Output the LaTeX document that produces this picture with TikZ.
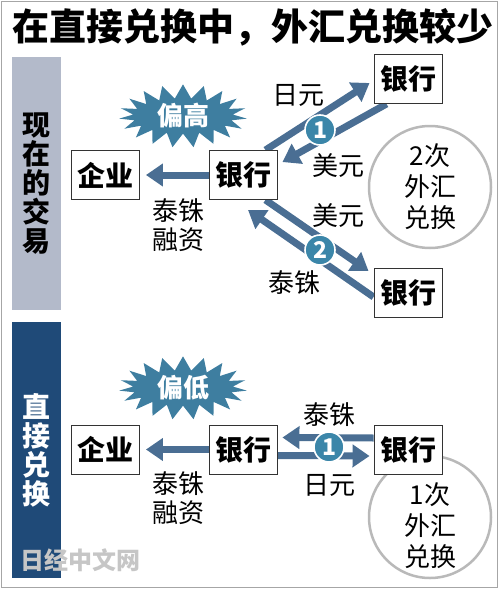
\documentclass[tikz,border=0pt]{standalone}
\usepackage{fontspec}
\setmainfont{Noto Sans CJK SC}
\usepackage{xcolor}
\usetikzlibrary{arrows.meta,shapes.symbols,backgrounds}

\definecolor{burstblue}{HTML}{3E7EA0}
\definecolor{flowblue}{HTML}{4A6E93}
\definecolor{numblue}{HTML}{3B86A9}
\definecolor{nowgray}{HTML}{B3BACA}
\definecolor{directnavy}{HTML}{1F4A78}

\begin{document}
\begin{tikzpicture}[
    x=1pt, y=-1pt,
    box/.style={draw=black!80, line width=0.9pt, fill=white, minimum width=68pt, minimum height=49pt, inner sep=0pt, font=\fontsize{28}{30}\selectfont\bfseries},
    lbl/.style={align=center, inner sep=0pt, font=\fontsize{26}{29}\selectfont},
    burst/.style={starburst, starburst points=19, starburst point height=14pt, random starburst=0, fill=burstblue, text=white, minimum width=128pt, minimum height=62pt, inner sep=0pt, font=\fontsize{26}{28}\selectfont\bfseries},
    flow/.style={draw=flowblue, line width=7pt, -{Triangle[length=17pt,width=22pt]}},
    num/.style={circle, fill=numblue, draw=white, line width=1.6pt, minimum size=30pt, inner sep=0pt, text=white, font=\fontsize{23}{23}\selectfont\bfseries},
    tally/.style={circle, draw=gray!55, line width=2.5pt, fill=white, minimum size=122pt},
    tallytext/.style={align=center, inner sep=0pt, font=\fontsize{26}{31}\selectfont},
    sidebar/.style={minimum width=49pt, inner sep=0pt, align=center, anchor=north west, font=\fontsize{28}{29}\selectfont\bfseries}
]
\useasboundingbox (0,0) rectangle (500,589);
\draw[gray!70, line width=1pt] (1,1) rectangle (497,587);

\node[font=\fontsize{37}{40}\selectfont\bfseries] (title) at (253,27) {在直接兑换中，外汇兑换较少};

% side bars
\node[sidebar, fill=nowgray, minimum height=253pt] (nowbar) at (12,57) {现\\在\\的\\交\\易};
\node[sidebar, fill=directnavy, text=white, minimum height=256pt] (directbar) at (12,322) {直\\接\\兑\\换};

% current trade
\node[burst] (high) at (183,116) {偏高};
\node[box] (firm1) at (105.5,175) {企业};
\node[box] (bank1) at (243,175) {银行};
\node[box] (bankA) at (408,79) {银行};
\node[box] (bankB) at (408,293) {银行};
\node[tally] (twice) at (430,187) {};
\node[tallytext] (twicetext) at (twice) {2次\\外汇\\兑换};

\begin{scope}[on background layer]
\draw[flow] (bank1.west) -- ([xshift=6pt]firm1.east);
\draw[flow] ([xshift=-12pt]bank1.north east) -- ([xshift=-4pt,yshift=-4pt]bankA.west);
\draw[flow] ([xshift=13pt]bankA.south west) -- ([xshift=5pt,yshift=-12pt]bank1.north east);
\draw[flow] ([xshift=-12pt]bank1.south east) -- ([xshift=-5pt,yshift=-3pt]bankB.north west);
\draw[flow] ([yshift=-4pt]bankB.west) -- ([xshift=5pt,yshift=-10pt]bank1.south);
\end{scope}

\node[num] (one) at (320,130) {1};
\node[num] (two) at (320,250) {2};
\node[lbl] (yen1) at (298,95) {日元};
\node[lbl] (usd1) at (338,166) {美元};
\node[lbl] (usd2) at (338,216) {美元};
\node[lbl] (baht1) at (294,283) {泰铢};
\node[lbl] (loan1) at (178,225) {泰铢\\融资};

% direct exchange
\node[burst] (low) at (183,388) {偏低};
\node[box] (firm2) at (105.5,449.5) {企业};
\node[box] (bank2) at (243,449.5) {银行};
\node[tally] (once) at (430,517) {};
\node[tallytext] (oncetext) at ([yshift=-9pt]once.center) {1次\\外汇\\兑换};
\node[box] (bankC) at (408,450) {银行};

\begin{scope}[on background layer]
\draw[flow] (bank2.west) -- ([xshift=6pt]firm2.east);
\draw[flow] ([yshift=12pt]bankC.west) -- ([xshift=5pt,yshift=12pt]bank2.east);
\draw[flow] ([yshift=-6pt]bank2.east) -- ([xshift=-4pt,yshift=-6pt]bankC.west);
\end{scope}

\node[num] (oneB) at (329,447) {1};
\node[lbl] (baht2) at (329,415) {泰铢};
\node[lbl] (yen2) at (329,485) {日元};
\node[lbl] (loan2) at (178,498) {泰铢\\融资};

\node[text=gray!45, font=\fontsize{24}{24}\selectfont\bfseries] (mark) at (80,560) {日经中文网};
\end{tikzpicture}
\end{document}
